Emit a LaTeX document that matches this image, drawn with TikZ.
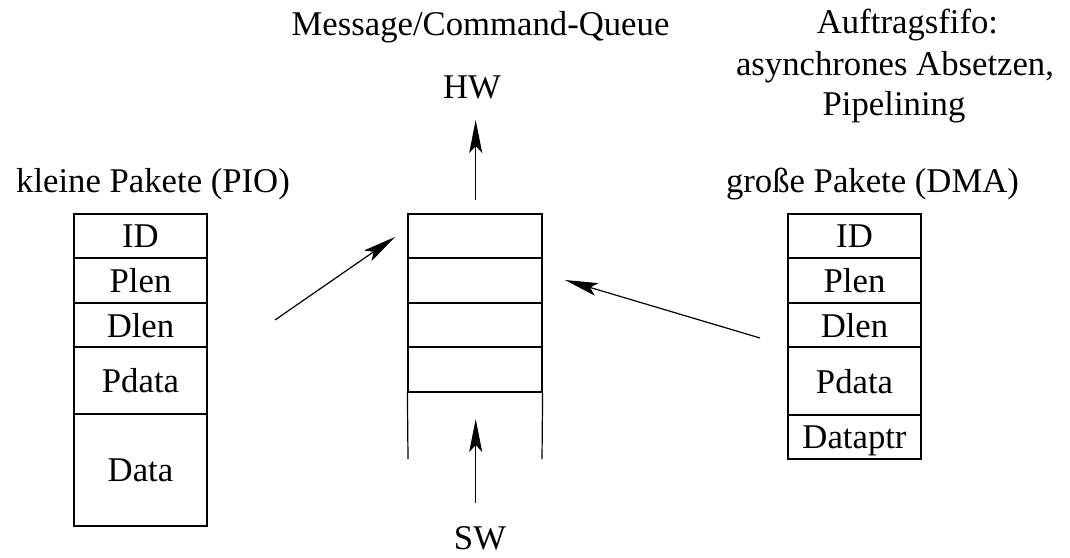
\documentclass[tikz,border=0pt]{standalone}
\usepackage{fontspec}
\setmainfont{Liberation Serif}
\usetikzlibrary{arrows.meta}
\begin{document}
\begin{tikzpicture}[x=1pt,y=-1pt,
  txt/.style={font=\fontsize{34.7}{40}\selectfont, inner sep=0pt, anchor=base},
  cell/.style={draw, line width=1.2pt, minimum width=133pt, inner sep=0pt, font=\fontsize{34.7}{40}\selectfont, text depth=0pt},
  arr/.style={line width=1.2pt, -{Stealth[length=33pt,width=13pt,inset=7pt]}}]
\useasboundingbox (0,0) rectangle (1070,557);
% texts
\node[txt] (title) at (480.5,35) {Message/Command-Queue};
\node[txt] (hw) at (472,98) {HW};
\node[txt] (sw) at (480,549) {SW};
\node[txt] (auf1) at (907.5,33) {Auftragsfifo:};
\node[txt] (auf2) at (895,75) {asynchrones Absetzen,};
\node[txt] (auf3) at (894,115) {Pipelining};
\node[txt] (klein) at (153,192) {kleine Pakete (PIO)};
\node[txt] (gross) at (872.5,192) {große Pakete (DMA)};
% left stack
\node[cell, minimum height=44pt] (l1) at (140.5,236) {ID};
\node[cell, minimum height=45pt] (l2) at (140.5,280.5) {Plen};
\node[cell, minimum height=44pt] (l3) at (140.5,325) {Dlen};
\node[cell, minimum height=67pt] (l4) at (140.5,380.5) {Pdata};
\node[cell, minimum height=112pt] (l5) at (140.5,470) {Data};
% right stack
\node[cell, minimum height=44pt] (r1) at (854.5,236) {ID};
\node[cell, minimum height=45pt] (r2) at (854.5,280.5) {Plen};
\node[cell, minimum height=44pt] (r3) at (854.5,325) {Dlen};
\node[cell, minimum height=68pt] (r4) at (854.5,381) {Pdata};
\node[cell, minimum height=44pt] (r5) at (854.5,437) {Dataptr};
% middle queue
\node[cell, minimum width=134pt, minimum height=44pt] (m1) at (475,236) {};
\node[cell, minimum width=134pt, minimum height=45pt] (m2) at (475,280.5) {};
\node[cell, minimum width=134pt, minimum height=44pt] (m3) at (475,325) {};
\node[cell, minimum width=134pt, minimum height=45pt] (m4) at (475,369.5) {};
\coordinate (qbl) at (408,459);
\coordinate (qbr) at (542,459);
\draw[line width=1.2pt] (m4.south west) -- (qbl);
\draw[line width=1.2pt] (m4.south east) -- (qbr);
% arrows
\coordinate (hwt) at (475.7,200);
\coordinate (hwh) at (475.7,120);
\coordinate (swt) at (475.7,503);
\coordinate (swh) at (475.7,419);
\coordinate (lt) at (275,320);
\coordinate (lh) at (395,237);
\coordinate (rt) at (760,338);
\coordinate (rh) at (565,280);
\draw[arr] (hwt) -- (hwh);
\draw[arr] (swt) -- (swh);
\draw[arr] (lt) -- (lh);
\draw[arr] (rt) -- (rh);
\end{tikzpicture}
\end{document}
